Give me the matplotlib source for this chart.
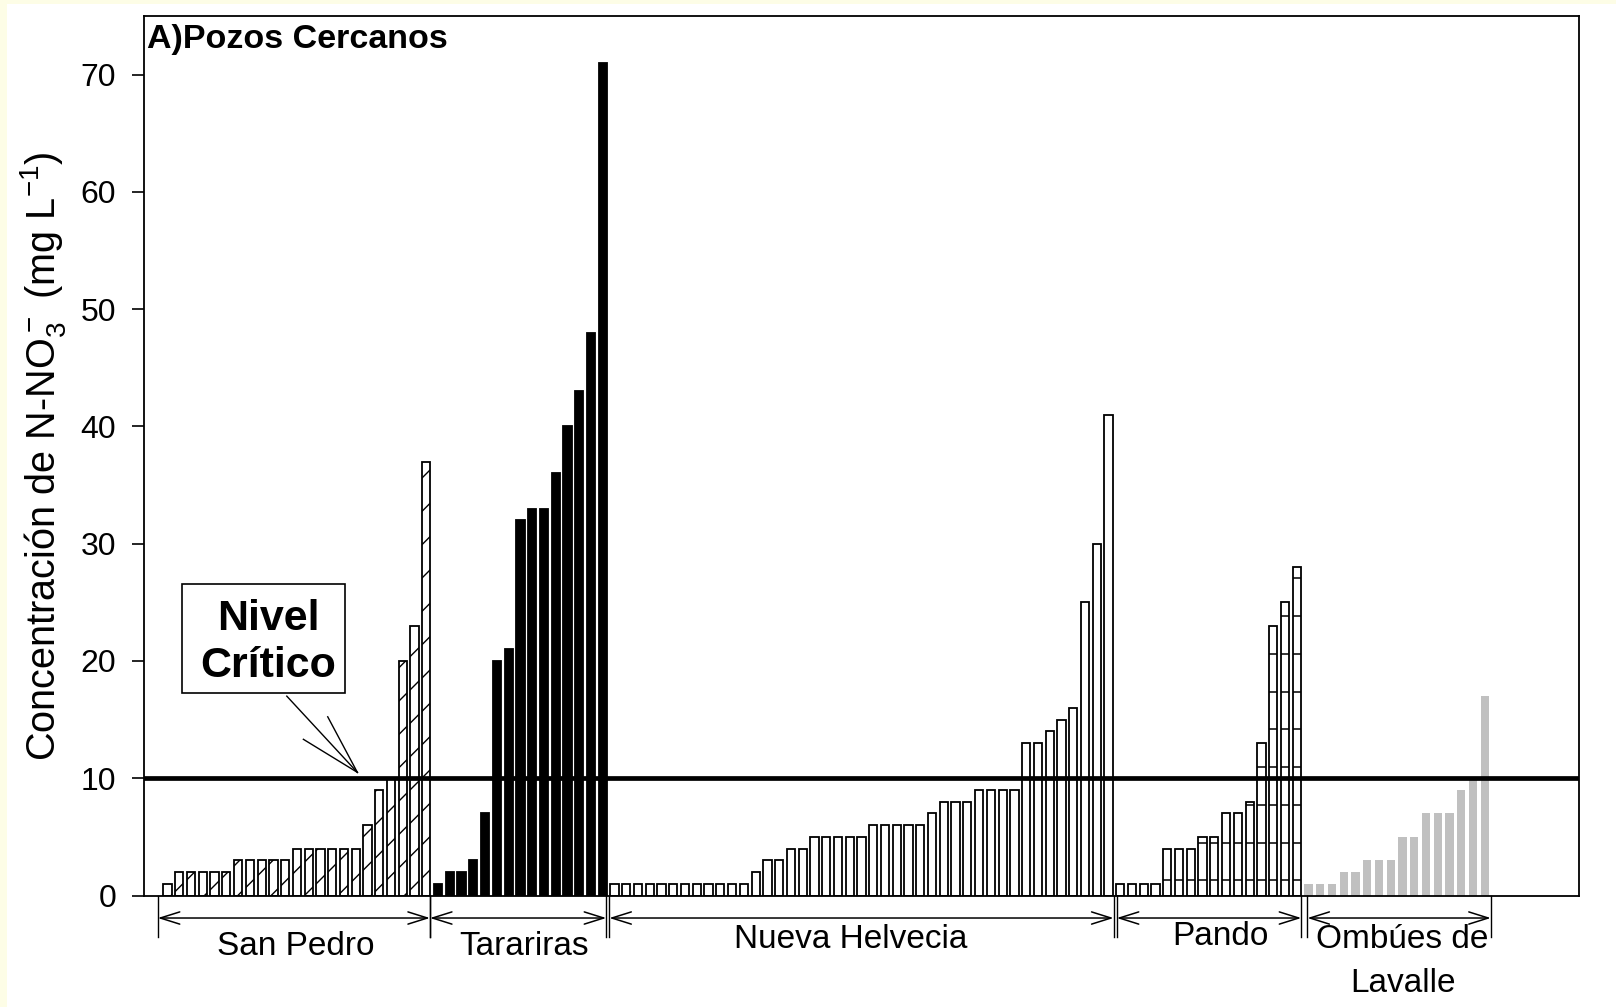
import numpy as np
import matplotlib
matplotlib.use("Agg")
import matplotlib.pyplot as plt
import matplotlib.transforms as mtransforms
from matplotlib.patches import Rectangle

plt.rcParams['font.family'] = ['Liberation Sans', 'DejaVu Sans']
plt.rcParams['mathtext.fontset'] = 'custom'
plt.rcParams['mathtext.rm'] = 'Liberation Sans'
plt.rcParams['mathtext.default'] = 'regular'
plt.rcParams['hatch.linewidth'] = 1.0

# N-NO3 concentration per well, sorted within each locality
san_pedro = [1, 2, 2, 2, 2, 2, 3, 3, 3, 3, 3, 4, 4, 4, 4, 4, 4, 6, 9, 10, 20, 23, 37]
tarariras = [1, 2, 2, 3, 7, 20, 21, 32, 33, 33, 36, 40, 43, 48, 71]
nueva_helvecia = [1, 1, 1, 1, 1, 1, 1, 1, 1, 1, 1, 1, 2, 3, 3, 4, 4, 5, 5, 5, 5, 5,
                  6, 6, 6, 6, 6, 7, 8, 8, 8, 9, 9, 9, 9, 13, 13, 14, 15, 16, 25, 30, 41]
pando = [1, 1, 1, 1, 4, 4, 4, 5, 5, 7, 7, 8, 13, 23, 25, 28]
ombues = [1, 1, 1, 2, 2, 3, 3, 3, 5, 5, 7, 7, 7, 9, 10, 17]

groups = ["San Pedro", "Tarariras", "Nueva Helvecia", "Pando", "Ombúes de\nLavalle"]
nivel_critico = 10
yticks = [0, 10, 20, 30, 40, 50, 60, 70]

fig = plt.figure(figsize=(16.16, 10.07), dpi=100)
# pale yellow border on left and top like the source slide
fig.patches.append(Rectangle((0, 0), 7 / 1616, 1, transform=fig.transFigure,
                             facecolor='#fdfde6', edgecolor='none', zorder=0))
fig.patches.append(Rectangle((0, 1 - 3.5 / 1007), 1, 3.5 / 1007, transform=fig.transFigure,
                             facecolor='#fdfde6', edgecolor='none', zorder=0))

ax = fig.add_axes([144 / 1616, 1 - 895.5 / 1007, 1435 / 1616, 879.5 / 1007])

W = 0.7
start = 0
xs = []
for vals in [san_pedro, tarariras, nueva_helvecia, pando, ombues]:
    xs.append(np.arange(start, start + len(vals)))
    start += len(vals)

ax.bar(xs[0], san_pedro, W, facecolor='white', edgecolor='black', lw=1.3, hatch='/', zorder=2)
ax.bar(xs[1], tarariras, W, facecolor='black', edgecolor='black', lw=1.3, zorder=2)
ax.bar(xs[2], nueva_helvecia, W, facecolor='white', edgecolor='black', lw=1.3, zorder=2)
ax.bar(xs[3], pando, W, facecolor='white', edgecolor='black', lw=1.3, zorder=2)
ax.bar(xs[4], ombues, W, facecolor='#c0c0c0', edgecolor='none', zorder=2)

# sparse horizontal hatch for Pando
levels = np.arange(1.28, 30, 3.22)
for x, h in zip(xs[3], pando):
    lv = levels[levels < h]
    if len(lv):
        ax.hlines(lv, x - W / 2, x + W / 2, color='black', lw=1.1, zorder=2.5)

ax.axhline(nivel_critico, color='black', lw=3.4, zorder=3)

ax.set_xlim(-2.0, 120.0)
ax.set_ylim(0, 75)
ax.set_xticks([])
ax.set_yticks(yticks)
ax.tick_params(axis='y', direction='out', length=9, width=1.2, pad=11, labelsize=23)
for s in ax.spines.values():
    s.set_linewidth(1.3)

ax.set_ylabel("Concentración de N-NO$_3^-$ (mg L$^{-1}$)", fontsize=28.5)
ax.yaxis.set_label_coords(-0.053, 0.5)

ax.text(0.002, 0.9636, "A)Pozos Cercanos", transform=ax.transAxes, fontsize=24.5,
        fontweight='bold', ha='left', va='baseline')

# Nivel Critico callout
ax.add_patch(Rectangle((1.21, 17.24), 13.88, 9.32, facecolor='white', edgecolor='black',
                       lw=1.2, zorder=4))
ax.text(8.6, 22.63, "Nivel", fontsize=31, fontweight='bold', ha='center', va='baseline', zorder=5)
ax.text(8.6, 18.65, "Crítico", fontsize=31, fontweight='bold', ha='center', va='baseline', zorder=5)
tip = (16.14, 10.5)
for sx, sy in [(10.14, 17.0), (11.55, 13.32), (13.62, 15.24)]:
    ax.plot([sx, tip[0]], [sy, tip[1]], color='black', lw=1.0, zorder=4)

# locality brackets under the axis
trans = mtransforms.blended_transform_factory(ax.transData, ax.transAxes)
bounds = [(-0.83, 22.31), (22.31, 37.3), (37.56, 80.43), (80.7, 96.39), (96.91, 112.5)]
for x0, x1 in bounds:
    for xv in (x0, x1):
        ax.plot([xv, xv], [0, -0.0472], transform=trans, color='black', lw=1.0, clip_on=False)
    ax.annotate('', xy=(x1, -0.0256), xytext=(x0, -0.0256), xycoords=trans, textcoords=trans,
                arrowprops=dict(arrowstyle='<->,head_length=0.7,head_width=0.22', lw=1.1,
                                color='black', shrinkA=0, shrinkB=0, mutation_scale=20),
                annotation_clip=False)

label_x = [10.9, 30.3, 58.1, 89.5, 105.0]
label_y = [-0.0677, -0.0677, -0.0597, -0.0563, -0.0597]
for name, lx, ly in zip(groups, label_x, label_y):
    lines = name.split("\n")
    ax.text(lx, ly, lines[0], transform=trans, fontsize=24, ha='center', va='baseline')
    if len(lines) > 1:
        ax.text(lx, -0.1097, lines[1], transform=trans, fontsize=24, ha='center', va='baseline')

fig.savefig("out.png", dpi=100)
